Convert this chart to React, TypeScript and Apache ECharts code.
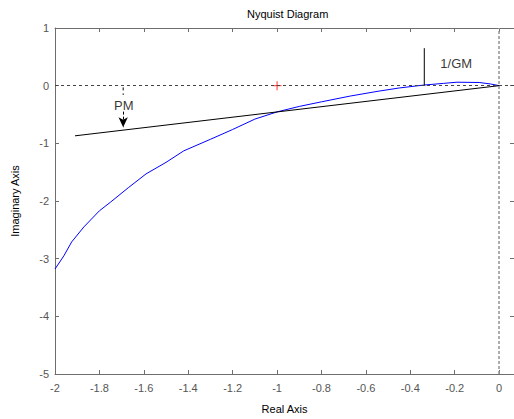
import React, { useEffect, useRef } from "react";
import * as echarts from "echarts";

const xTickStep = 0.2;
const xMin = -2;
const xMax = 0.067;
const yMin = -5;
const yMax = 1;

const nyquistCurve: [number, number][] = [
  [-2.0, -3.18], [-1.96, -2.95], [-1.925, -2.71], [-1.87, -2.45], [-1.8, -2.17],
  [-1.75, -2.02], [-1.67, -1.77], [-1.59, -1.53], [-1.5, -1.33], [-1.42, -1.13],
  [-1.3, -0.93], [-1.2, -0.76], [-1.1, -0.58], [-1.0, -0.455], [-0.9, -0.36],
  [-0.8, -0.28], [-0.67, -0.18], [-0.55, -0.1], [-0.45, -0.04], [-0.34, 0.01],
  [-0.25, 0.04], [-0.19, 0.06], [-0.09, 0.055], [-0.04, 0.03], [0, 0],
];

const phaseMarginLine: [number, number][] = [[-1.91, -0.87], [0, 0]];
const pmTopDash: [number, number][] = [[-1.693, -0.03], [-1.693, -0.16]];
const pmArrow: [number, number][] = [[-1.693, -0.45], [-1.693, -0.72]];
const pmLabelPos: [number, number] = [-1.69, -0.34];
const gmLine: [number, number][] = [[-0.337, 0], [-0.337, 0.65]];
const gmLabelPos: [number, number] = [-0.193, 0.39];
const criticalPoint: [number, number] = [-1, 0];

const FONT = "Arial, 'Liberation Sans', sans-serif";
const AXIS_COLOR = "#6e6e6e";
const LABEL_COLOR = "#555";

function fmtX(v: number): string {
  const k = Math.round(v / xTickStep);
  if (Math.abs(v - k * xTickStep) > 1e-6) return "";
  const r = Math.round(v * 10) / 10;
  return r === 0 ? "0" : String(r);
}

export default function App() {
  const ref = useRef<HTMLDivElement>(null);
  useEffect(() => {
    if (!ref.current) return;
    const chart = echarts.init(ref.current, undefined, { renderer: "svg" });
    const axisCommon = {
      type: "value" as const,
      axisLine: { show: true, onZero: false, lineStyle: { color: AXIS_COLOR, width: 1 } },
      axisTick: { show: true, inside: true, length: 4, lineStyle: { color: AXIS_COLOR } },
      splitLine: { show: false },
    };
    chart.setOption({
      animation: false,
      title: {
        text: "Nyquist Diagram",
        left: 242,
        top: 3,
        textStyle: { fontSize: 11, fontWeight: "normal", color: "#000", fontFamily: FONT },
      },
      grid: { left: 55, top: 28, width: 460, height: 352 },
      xAxis: [
        {
          ...axisCommon,
          position: "bottom",
          min: xMin,
          max: xMax,
          interval: xTickStep,
          axisLabel: { formatter: fmtX, color: LABEL_COLOR, fontSize: 11, fontFamily: FONT, margin: 8, showMaxLabel: false },
          name: "Real Axis",
          nameLocation: "middle",
          nameGap: 29,
          nameTextStyle: { fontSize: 11, color: "#000", fontFamily: FONT },
        },
        {
          ...axisCommon,
          position: "top",
          min: xMin,
          max: xMax,
          interval: xTickStep,
          axisLabel: { show: false },
        },
      ],
      yAxis: [
        {
          ...axisCommon,
          position: "left",
          min: yMin,
          max: yMax,
          interval: 1,
          axisLabel: { color: LABEL_COLOR, fontSize: 11, fontFamily: FONT, margin: 6 },
          name: "Imaginary Axis",
          nameLocation: "middle",
          nameGap: 35,
          nameTextStyle: { fontSize: 11, color: "#000", fontFamily: FONT },
        },
        {
          ...axisCommon,
          position: "right",
          min: yMin,
          max: yMax,
          interval: 1,
          axisLabel: { show: false },
        },
      ],
      series: [
        {
          type: "line",
          data: [],
          silent: true,
          markLine: {
            silent: true,
            symbol: ["none", "none"],
            label: { show: false },
            data: [
              [
                { coord: [xMin, 0], lineStyle: { color: "#444", type: [3, 3], width: 1 } },
                { coord: [xMax, 0] },
              ],
              [
                { coord: [0, yMin], lineStyle: { color: "#999", type: [3, 2], width: 1.6 } },
                { coord: [0, yMax] },
              ],
            ],
          },
        },
        {
          type: "line",
          data: nyquistCurve,
          showSymbol: false,
          symbol: "none",
          lineStyle: { color: "#0000ff", width: 1 },
        },
        {
          type: "line",
          data: phaseMarginLine,
          symbol: "none",
          lineStyle: { color: "#000", width: 1 },
        },
        {
          type: "line",
          data: pmTopDash,
          symbol: "none",
          lineStyle: { color: "#000", width: 1, type: [3, 3] },
        },
        {
          type: "line",
          data: [],
          markLine: {
            silent: true,
            symbol: ["none", "arrow"],
            symbolSize: [7, 10],
            label: { show: false },
            lineStyle: { color: "#000", width: 1, type: [3, 2] },
            data: [[{ coord: pmArrow[0] }, { coord: pmArrow[1] }]],
          },
        },
        {
          type: "line",
          data: gmLine,
          symbol: "none",
          lineStyle: { color: "#000", width: 1 },
        },
        {
          type: "scatter",
          symbolSize: 0,
          data: [
            { value: pmLabelPos, name: "PM" },
            { value: gmLabelPos, name: "1/GM" },
          ],
          label: {
            show: true,
            position: "inside",
            formatter: (p: any) => p.name,
            fontSize: 13,
            color: "#000",
            fontFamily: FONT,
          },
        },
        {
          type: "scatter",
          data: [
            { value: criticalPoint, symbolSize: [9, 1] },
            { value: criticalPoint, symbolSize: [1, 9] },
          ],
          symbol: "rect",
          itemStyle: { color: "#ff0000" },
        },
      ],
    });
    return () => chart.dispose();
  }, []);
  return <div ref={ref} style={{ width: 514, height: 419, position: "absolute", left: 0, top: 0 }} />;
}
